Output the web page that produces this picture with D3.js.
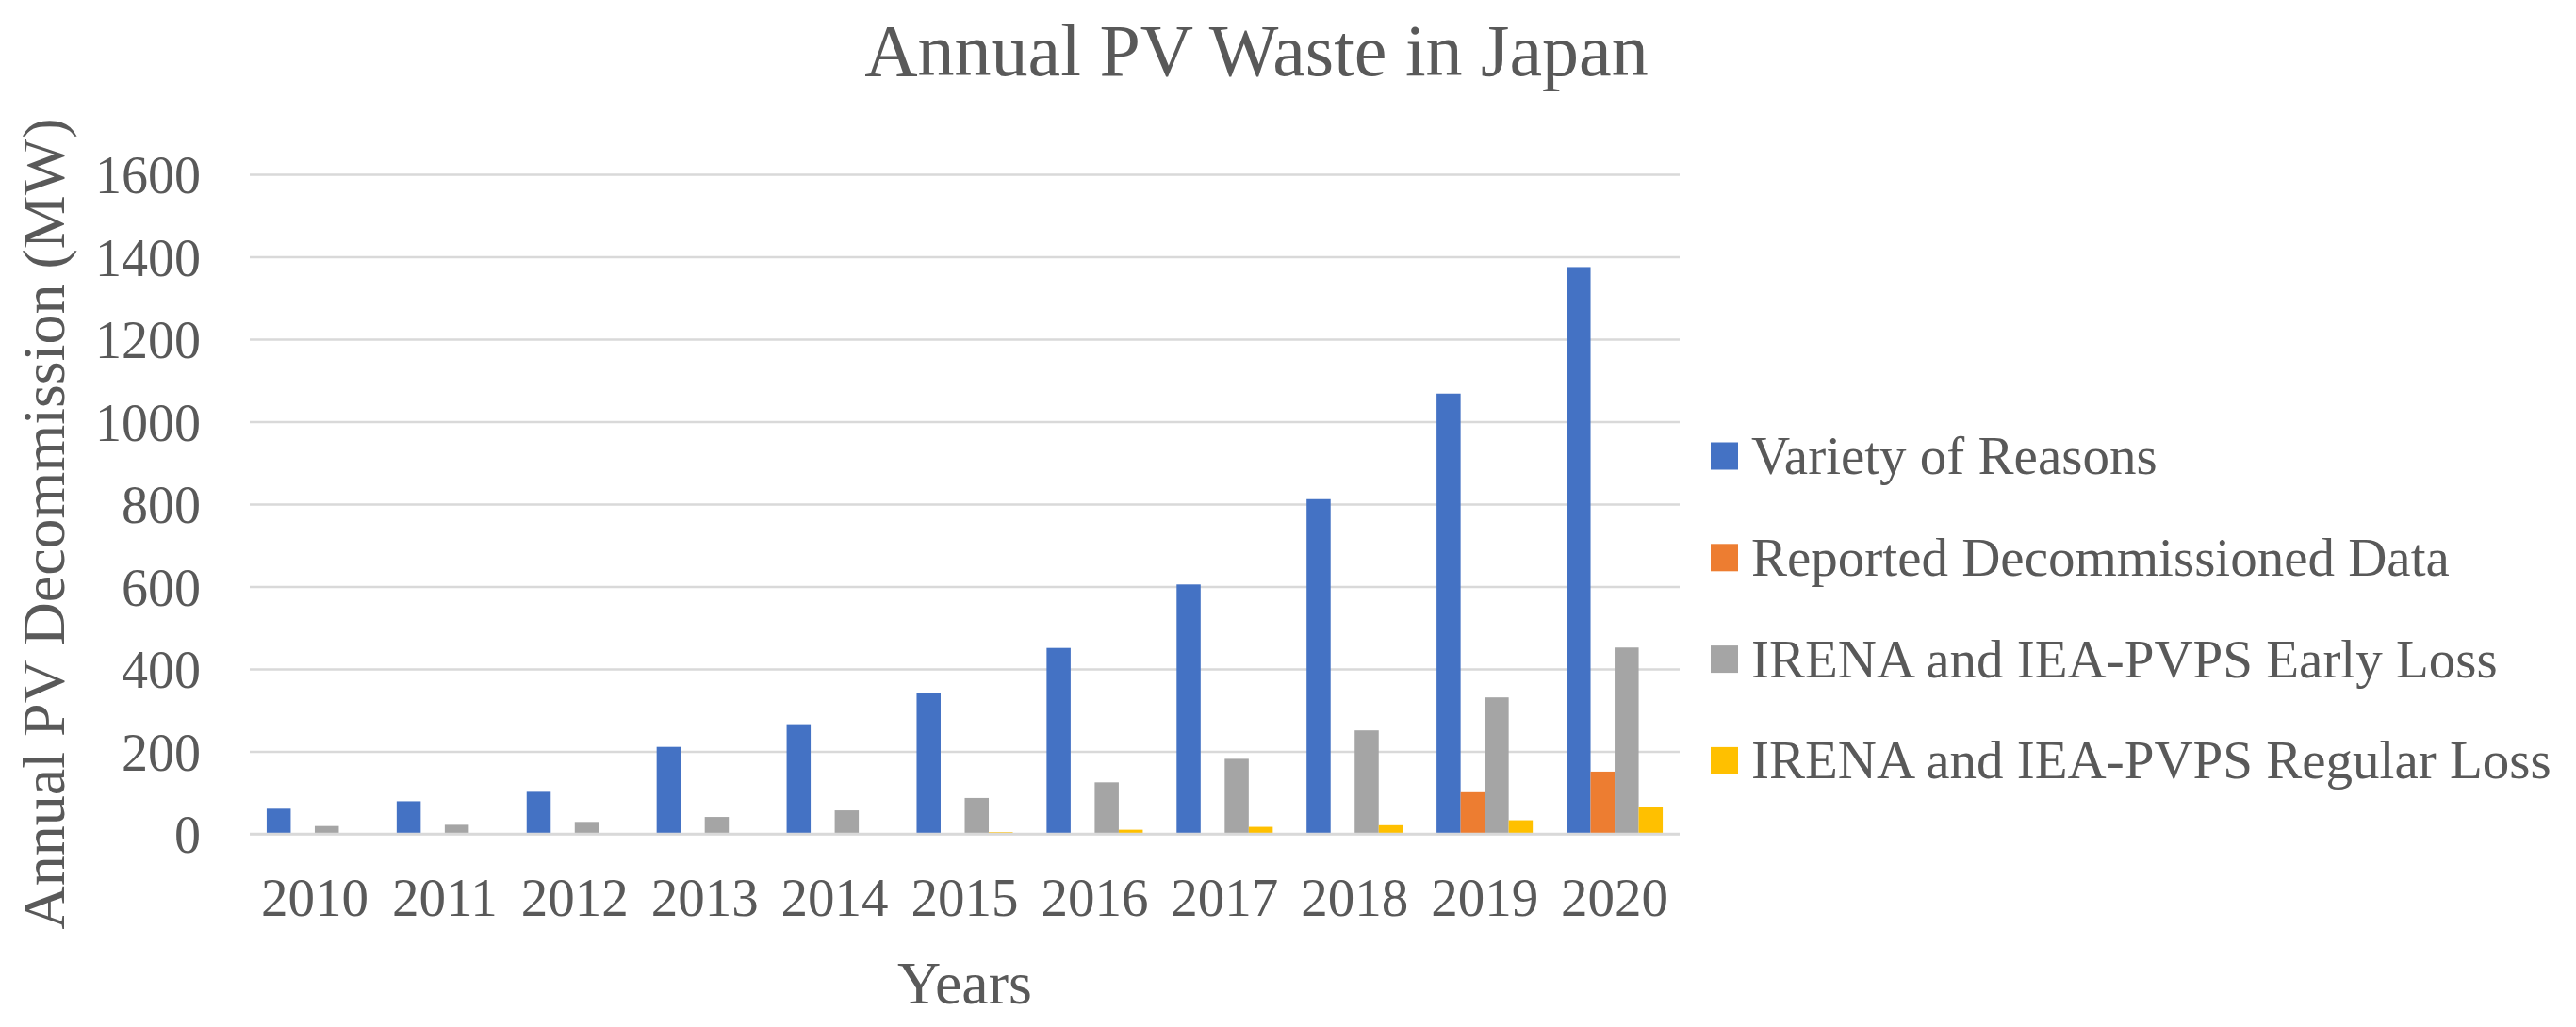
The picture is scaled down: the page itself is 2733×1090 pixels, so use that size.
<!DOCTYPE html>
<html>
<head>
<meta charset="utf-8">
<script src="https://cdn.jsdelivr.net/npm/d3@7"></script>
<style>
  html, body { margin: 0; padding: 0; background: #ffffff; }
  svg { display: block; }
</style>
</head>
<body>
<div id="chart"></div>
<script>
// ---- Data ----
const years = ["2010","2011","2012","2013","2014","2015","2016","2017","2018","2019","2020"];
const seriesNames = [
  "Variety of Reasons",
  "Reported Decommissioned Data",
  "IRENA and IEA-PVPS Early Loss",
  "IRENA and IEA-PVPS Regular Loss"
];
const varietyOfReasons   = [61, 79, 102, 211, 266, 341, 451, 605, 812, 1068, 1375];
const reportedData       = [0, 0, 0, 0, 0, 0, 0, 0, 0, 101, 151];
const irenaEarlyLoss     = [19, 22, 29, 41, 57, 87, 125, 182, 251, 331, 452];
const irenaRegularLoss   = [0, 0, 0, 0, 0, 4, 10, 17, 21, 33, 66];
const seriesColors = ["#4472C4", "#ED7D31", "#A5A5A5", "#FFC000"];
const yTicks = [0, 200, 400, 600, 800, 1000, 1200, 1400, 1600];

const chartTitle = "Annual PV Waste in Japan";
const yTitle = "Annual PV Decommission (MW)";
const xTitle = "Years";

// ---- Layout ----
const W = 2733, H = 1090;
const plot = { left: 265, right: 1782, top: 185, bottom: 885 };
const FONT = "'Liberation Serif', 'Times New Roman', serif";
const TEXT = "#595959";

const allSeries = [varietyOfReasons, reportedData, irenaEarlyLoss, irenaRegularLoss];
const table = years.map((yr, i) => ({
  year: yr,
  values: seriesNames.map((name, s) => ({ name, s, value: allSeries[s][i] }))
}));

const svg = d3.select("#chart").append("svg")
  .attr("width", W).attr("height", H)
  .attr("viewBox", `0 0 ${W} ${H}`);

const x0 = d3.scaleBand().domain(years)
  .range([plot.left, plot.right])
  .paddingInner(0.26).paddingOuter(0.13);
const x1 = d3.scaleBand().domain(d3.range(seriesNames.length))
  .range([0, x0.bandwidth()]).padding(0);
const y = d3.scaleLinear().domain([0, 1600]).range([plot.bottom, plot.top]);

// Gridlines + y labels
const yAxis = svg.append("g")
  .attr("transform", `translate(${plot.left},0)`)
  .call(d3.axisLeft(y).tickValues(yTicks).tickFormat(d3.format("d"))
        .tickSize(-(plot.right - plot.left)).tickPadding(52));
yAxis.select(".domain").remove();
yAxis.selectAll(".tick line").attr("stroke", "#D9D9D9").attr("stroke-width", 2.6);
yAxis.selectAll(".tick text")
  .attr("fill", TEXT).attr("font-family", FONT).attr("font-size", 56)
  .attr("dy", "0.35em");

// Bars
const groups = svg.append("g").selectAll("g")
  .data(table).join("g")
  .attr("transform", d => `translate(${x0(d.year)},0)`);
groups.selectAll("rect")
  .data(d => d.values.filter(v => v.value > 0))
  .join("rect")
  .attr("x", v => x1(v.s))
  .attr("width", x1.bandwidth())
  .attr("y", v => y(v.value))
  .attr("height", v => y(0) - y(v.value))
  .attr("fill", v => seriesColors[v.s]);

// Baseline on top of bars
svg.append("line")
  .attr("x1", plot.left).attr("x2", plot.right)
  .attr("y1", y(0)).attr("y2", y(0))
  .attr("stroke", "#D9D9D9").attr("stroke-width", 2.6);

// X axis labels
const xAxis = svg.append("g")
  .attr("transform", `translate(0,${plot.bottom})`)
  .call(d3.axisBottom(x0).tickSize(0));
xAxis.select(".domain").remove();
xAxis.selectAll(".tick text")
  .attr("fill", TEXT).attr("font-family", FONT).attr("font-size", 57)
  .attr("y", 87).attr("dy", null);

// Title
svg.append("text")
  .attr("x", 1333).attr("y", 80)
  .attr("text-anchor", "middle")
  .attr("fill", TEXT).attr("font-family", FONT).attr("font-size", 78)
  .text(chartTitle);

// Axis titles
svg.append("text")
  .attr("transform", `translate(68,556) rotate(-90)`)
  .attr("text-anchor", "middle")
  .attr("fill", TEXT).attr("font-family", FONT).attr("font-size", 64)
  .text(yTitle);

svg.append("text")
  .attr("x", (plot.left + plot.right) / 2).attr("y", 1065)
  .attr("text-anchor", "middle")
  .attr("fill", TEXT).attr("font-family", FONT).attr("font-size", 64)
  .text(xTitle);

// Legend
const legend = svg.append("g");
const legItems = legend.selectAll("g")
  .data(seriesNames).join("g")
  .attr("transform", (d, i) => `translate(1815,${484 + i * 107.8})`);
legItems.append("rect")
  .attr("x", 0).attr("y", -14.5).attr("width", 29).attr("height", 29)
  .attr("fill", (d, i) => seriesColors[i]);
legItems.append("text")
  .attr("x", 43).attr("y", 19)
  .attr("fill", TEXT).attr("font-family", FONT).attr("font-size", 57)
  .text(d => d);
</script>
</body>
</html>
